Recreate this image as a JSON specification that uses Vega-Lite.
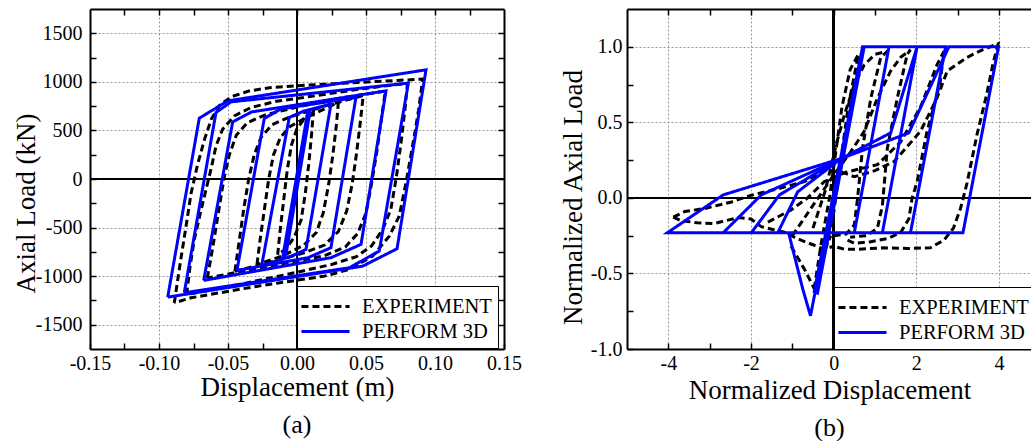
{
  "$schema": "https://vega.github.io/schema/vega-lite/v6.json",
  "padding": {"left": 12, "top": 8, "right": 0, "bottom": 0},
  "background": "white",
  "config": {"view": {"stroke": null}, "font": "Liberation Serif"},
  "bounds": "flush",
  "spacing": 123,
  "resolve": {"scale": {"color": "independent", "strokeDash": "independent"}, "legend": {"color": "independent", "strokeDash": "independent"}},
  "datasets": {
    "a": [
      {"s":"EXPERIMENT","g":"e1","i":0,"x":-0.0889,"y":-1275},{"s":"EXPERIMENT","g":"e1","i":1,"x":-0.0850,"y":-900},{"s":"EXPERIMENT","g":"e1","i":2,"x":-0.0800,"y":-450},{"s":"EXPERIMENT","g":"e1","i":3,"x":-0.0768,"y":-150},{"s":"EXPERIMENT","g":"e1","i":4,"x":-0.0720,"y":150},{"s":"EXPERIMENT","g":"e1","i":5,"x":-0.0672,"y":400},{"s":"EXPERIMENT","g":"e1","i":6,"x":-0.0620,"y":620},{"s":"EXPERIMENT","g":"e1","i":7,"x":-0.0560,"y":760},{"s":"EXPERIMENT","g":"e1","i":8,"x":-0.0470,"y":850},{"s":"EXPERIMENT","g":"e1","i":9,"x":-0.0350,"y":905},{"s":"EXPERIMENT","g":"e1","i":10,"x":-0.0200,"y":940},{"s":"EXPERIMENT","g":"e1","i":11,"x":0.0000,"y":960},{"s":"EXPERIMENT","g":"e1","i":12,"x":0.0440,"y":994},{"s":"EXPERIMENT","g":"e1","i":13,"x":0.0911,"y":1028},{"s":"EXPERIMENT","g":"e1","i":14,"x":0.0880,"y":700},{"s":"EXPERIMENT","g":"e1","i":15,"x":0.0850,"y":443},{"s":"EXPERIMENT","g":"e1","i":16,"x":0.0790,"y":-37},{"s":"EXPERIMENT","g":"e1","i":17,"x":0.0741,"y":-381},{"s":"EXPERIMENT","g":"e1","i":18,"x":0.0669,"y":-588},{"s":"EXPERIMENT","g":"e1","i":19,"x":0.0548,"y":-794},{"s":"EXPERIMENT","g":"e1","i":20,"x":0.0379,"y":-931},{"s":"EXPERIMENT","g":"e1","i":21,"x":0.0198,"y":-1000},{"s":"EXPERIMENT","g":"e1","i":22,"x":-0.0285,"y":-1103},{"s":"EXPERIMENT","g":"e1","i":23,"x":-0.0768,"y":-1223},{"s":"EXPERIMENT","g":"e1","i":24,"x":-0.0889,"y":-1275},
      {"s":"EXPERIMENT","g":"e2","i":0,"x":-0.0800,"y":-1190},{"s":"EXPERIMENT","g":"e2","i":1,"x":-0.0775,"y":-900},{"s":"EXPERIMENT","g":"e2","i":2,"x":-0.0744,"y":-622},{"s":"EXPERIMENT","g":"e2","i":3,"x":-0.0700,"y":-350},{"s":"EXPERIMENT","g":"e2","i":4,"x":-0.0659,"y":-106},{"s":"EXPERIMENT","g":"e2","i":5,"x":-0.0620,"y":120},{"s":"EXPERIMENT","g":"e2","i":6,"x":-0.0587,"y":340},{"s":"EXPERIMENT","g":"e2","i":7,"x":-0.0539,"y":512},{"s":"EXPERIMENT","g":"e2","i":8,"x":-0.0454,"y":650},{"s":"EXPERIMENT","g":"e2","i":9,"x":-0.0333,"y":736},{"s":"EXPERIMENT","g":"e2","i":10,"x":-0.0150,"y":800},{"s":"EXPERIMENT","g":"e2","i":11,"x":0.0150,"y":860},{"s":"EXPERIMENT","g":"e2","i":12,"x":0.0450,"y":925},{"s":"EXPERIMENT","g":"e2","i":13,"x":0.0800,"y":985},{"s":"EXPERIMENT","g":"e2","i":14,"x":0.0785,"y":750},{"s":"EXPERIMENT","g":"e2","i":15,"x":0.0754,"y":375},{"s":"EXPERIMENT","g":"e2","i":16,"x":0.0720,"y":20},{"s":"EXPERIMENT","g":"e2","i":17,"x":0.0680,"y":-312},{"s":"EXPERIMENT","g":"e2","i":18,"x":0.0621,"y":-519},{"s":"EXPERIMENT","g":"e2","i":19,"x":0.0540,"y":-690},{"s":"EXPERIMENT","g":"e2","i":20,"x":0.0430,"y":-800},{"s":"EXPERIMENT","g":"e2","i":21,"x":0.0250,"y":-880},{"s":"EXPERIMENT","g":"e2","i":22,"x":0.0000,"y":-960},{"s":"EXPERIMENT","g":"e2","i":23,"x":-0.0400,"y":-1080},{"s":"EXPERIMENT","g":"e2","i":24,"x":-0.0800,"y":-1190},
      {"s":"EXPERIMENT","g":"e3","i":0,"x":-0.0650,"y":-1020},{"s":"EXPERIMENT","g":"e3","i":1,"x":-0.0610,"y":-700},{"s":"EXPERIMENT","g":"e3","i":2,"x":-0.0570,"y":-350},{"s":"EXPERIMENT","g":"e3","i":3,"x":-0.0530,"y":0},{"s":"EXPERIMENT","g":"e3","i":4,"x":-0.0490,"y":250},{"s":"EXPERIMENT","g":"e3","i":5,"x":-0.0440,"y":450},{"s":"EXPERIMENT","g":"e3","i":6,"x":-0.0360,"y":580},{"s":"EXPERIMENT","g":"e3","i":7,"x":-0.0230,"y":660},{"s":"EXPERIMENT","g":"e3","i":8,"x":0.0000,"y":740},{"s":"EXPERIMENT","g":"e3","i":9,"x":0.0300,"y":830},{"s":"EXPERIMENT","g":"e3","i":10,"x":0.0640,"y":905},{"s":"EXPERIMENT","g":"e3","i":11,"x":0.0610,"y":600},{"s":"EXPERIMENT","g":"e3","i":12,"x":0.0575,"y":250},{"s":"EXPERIMENT","g":"e3","i":13,"x":0.0540,"y":-50},{"s":"EXPERIMENT","g":"e3","i":14,"x":0.0500,"y":-350},{"s":"EXPERIMENT","g":"e3","i":15,"x":0.0440,"y":-560},{"s":"EXPERIMENT","g":"e3","i":16,"x":0.0350,"y":-700},{"s":"EXPERIMENT","g":"e3","i":17,"x":0.0200,"y":-790},{"s":"EXPERIMENT","g":"e3","i":18,"x":-0.0100,"y":-870},{"s":"EXPERIMENT","g":"e3","i":19,"x":-0.0400,"y":-950},{"s":"EXPERIMENT","g":"e3","i":20,"x":-0.0650,"y":-1020},
      {"s":"EXPERIMENT","g":"e4","i":0,"x":-0.0450,"y":-950},{"s":"EXPERIMENT","g":"e4","i":1,"x":-0.0420,"y":-650},{"s":"EXPERIMENT","g":"e4","i":2,"x":-0.0385,"y":-300},{"s":"EXPERIMENT","g":"e4","i":3,"x":-0.0350,"y":0},{"s":"EXPERIMENT","g":"e4","i":4,"x":-0.0310,"y":250},{"s":"EXPERIMENT","g":"e4","i":5,"x":-0.0260,"y":430},{"s":"EXPERIMENT","g":"e4","i":6,"x":-0.0180,"y":560},{"s":"EXPERIMENT","g":"e4","i":7,"x":-0.0050,"y":640},{"s":"EXPERIMENT","g":"e4","i":8,"x":0.0200,"y":750},{"s":"EXPERIMENT","g":"e4","i":9,"x":0.0480,"y":860},{"s":"EXPERIMENT","g":"e4","i":10,"x":0.0460,"y":600},{"s":"EXPERIMENT","g":"e4","i":11,"x":0.0430,"y":250},{"s":"EXPERIMENT","g":"e4","i":12,"x":0.0400,"y":-50},{"s":"EXPERIMENT","g":"e4","i":13,"x":0.0360,"y":-330},{"s":"EXPERIMENT","g":"e4","i":14,"x":0.0300,"y":-540},{"s":"EXPERIMENT","g":"e4","i":15,"x":0.0200,"y":-680},{"s":"EXPERIMENT","g":"e4","i":16,"x":0.0050,"y":-760},{"s":"EXPERIMENT","g":"e4","i":17,"x":-0.0200,"y":-860},{"s":"EXPERIMENT","g":"e4","i":18,"x":-0.0450,"y":-950},
      {"s":"EXPERIMENT","g":"e5","i":0,"x":-0.0290,"y":-880},{"s":"EXPERIMENT","g":"e5","i":1,"x":-0.0265,"y":-600},{"s":"EXPERIMENT","g":"e5","i":2,"x":-0.0235,"y":-300},{"s":"EXPERIMENT","g":"e5","i":3,"x":-0.0205,"y":0},{"s":"EXPERIMENT","g":"e5","i":4,"x":-0.0170,"y":250},{"s":"EXPERIMENT","g":"e5","i":5,"x":-0.0120,"y":430},{"s":"EXPERIMENT","g":"e5","i":6,"x":-0.0050,"y":540},{"s":"EXPERIMENT","g":"e5","i":7,"x":0.0050,"y":620},{"s":"EXPERIMENT","g":"e5","i":8,"x":0.0300,"y":790},{"s":"EXPERIMENT","g":"e5","i":9,"x":0.0285,"y":550},{"s":"EXPERIMENT","g":"e5","i":10,"x":0.0260,"y":250},{"s":"EXPERIMENT","g":"e5","i":11,"x":0.0230,"y":-50},{"s":"EXPERIMENT","g":"e5","i":12,"x":0.0190,"y":-350},{"s":"EXPERIMENT","g":"e5","i":13,"x":0.0140,"y":-550},{"s":"EXPERIMENT","g":"e5","i":14,"x":0.0050,"y":-680},{"s":"EXPERIMENT","g":"e5","i":15,"x":-0.0100,"y":-790},{"s":"EXPERIMENT","g":"e5","i":16,"x":-0.0290,"y":-880},
      {"s":"EXPERIMENT","g":"e6","i":0,"x":-0.0140,"y":-780},{"s":"EXPERIMENT","g":"e6","i":1,"x":-0.0120,"y":-500},{"s":"EXPERIMENT","g":"e6","i":2,"x":-0.0095,"y":-200},{"s":"EXPERIMENT","g":"e6","i":3,"x":-0.0070,"y":100},{"s":"EXPERIMENT","g":"e6","i":4,"x":-0.0040,"y":350},{"s":"EXPERIMENT","g":"e6","i":5,"x":0.0000,"y":520},{"s":"EXPERIMENT","g":"e6","i":6,"x":0.0060,"y":630},{"s":"EXPERIMENT","g":"e6","i":7,"x":0.0120,"y":720},{"s":"EXPERIMENT","g":"e6","i":8,"x":0.0105,"y":450},{"s":"EXPERIMENT","g":"e6","i":9,"x":0.0085,"y":150},{"s":"EXPERIMENT","g":"e6","i":10,"x":0.0060,"y":-150},{"s":"EXPERIMENT","g":"e6","i":11,"x":0.0030,"y":-420},{"s":"EXPERIMENT","g":"e6","i":12,"x":-0.0020,"y":-600},{"s":"EXPERIMENT","g":"e6","i":13,"x":-0.0080,"y":-720},{"s":"EXPERIMENT","g":"e6","i":14,"x":-0.0140,"y":-780},
      {"s":"PERFORM 3D","g":"p1","i":0,"x":-0.0937,"y":-1216},{"s":"PERFORM 3D","g":"p1","i":1,"x":-0.0708,"y":626},{"s":"PERFORM 3D","g":"p1","i":2,"x":-0.0502,"y":804},{"s":"PERFORM 3D","g":"p1","i":3,"x":0.0935,"y":1124},{"s":"PERFORM 3D","g":"p1","i":4,"x":0.0725,"y":-718},{"s":"PERFORM 3D","g":"p1","i":5,"x":0.0476,"y":-897},{"s":"PERFORM 3D","g":"p1","i":6,"x":-0.0937,"y":-1216},
      {"s":"PERFORM 3D","g":"p2","i":0,"x":-0.0817,"y":-1171},{"s":"PERFORM 3D","g":"p2","i":1,"x":-0.0587,"y":685},{"s":"PERFORM 3D","g":"p2","i":2,"x":-0.0478,"y":794},{"s":"PERFORM 3D","g":"p2","i":3,"x":0.0807,"y":987},{"s":"PERFORM 3D","g":"p2","i":4,"x":0.0596,"y":-742},{"s":"PERFORM 3D","g":"p2","i":5,"x":0.0379,"y":-914},{"s":"PERFORM 3D","g":"p2","i":6,"x":-0.0817,"y":-1171},
      {"s":"PERFORM 3D","g":"p3","i":0,"x":-0.0676,"y":-1044},{"s":"PERFORM 3D","g":"p3","i":1,"x":-0.0466,"y":588},{"s":"PERFORM 3D","g":"p3","i":2,"x":-0.0330,"y":690},{"s":"PERFORM 3D","g":"p3","i":3,"x":0.0645,"y":907},{"s":"PERFORM 3D","g":"p3","i":4,"x":0.0464,"y":-673},{"s":"PERFORM 3D","g":"p3","i":5,"x":0.0246,"y":-810},{"s":"PERFORM 3D","g":"p3","i":6,"x":-0.0676,"y":-1044},
      {"s":"PERFORM 3D","g":"p4","i":0,"x":-0.0435,"y":-941},{"s":"PERFORM 3D","g":"p4","i":1,"x":-0.0237,"y":623},{"s":"PERFORM 3D","g":"p4","i":2,"x":-0.0120,"y":720},{"s":"PERFORM 3D","g":"p4","i":3,"x":0.0427,"y":839},{"s":"PERFORM 3D","g":"p4","i":4,"x":0.0246,"y":-707},{"s":"PERFORM 3D","g":"p4","i":5,"x":0.0080,"y":-810},{"s":"PERFORM 3D","g":"p4","i":6,"x":-0.0435,"y":-941},
      {"s":"PERFORM 3D","g":"p5","i":0,"x":-0.0256,"y":-890},{"s":"PERFORM 3D","g":"p5","i":1,"x":-0.0056,"y":633},{"s":"PERFORM 3D","g":"p5","i":2,"x":0.0050,"y":700},{"s":"PERFORM 3D","g":"p5","i":3,"x":0.0246,"y":770},{"s":"PERFORM 3D","g":"p5","i":4,"x":0.0065,"y":-725},{"s":"PERFORM 3D","g":"p5","i":5,"x":-0.0050,"y":-800},{"s":"PERFORM 3D","g":"p5","i":6,"x":-0.0256,"y":-890},
      {"s":"PERFORM 3D","g":"p6","i":0,"x":-0.0104,"y":-811},{"s":"PERFORM 3D","g":"p6","i":1,"x":0.0077,"y":684},{"s":"PERFORM 3D","g":"p6","i":2,"x":0.0095,"y":700},{"s":"PERFORM 3D","g":"p6","i":3,"x":-0.0080,"y":-780},{"s":"PERFORM 3D","g":"p6","i":4,"x":-0.0104,"y":-811}
    ],
    "b": [
      {"s":"EXPERIMENT","g":"e1","i":0,"x":-3.88,"y":-0.127},{"s":"EXPERIMENT","g":"e1","i":1,"x":-3.60,"y":-0.09},{"s":"EXPERIMENT","g":"e1","i":2,"x":-3.12,"y":-0.07},{"s":"EXPERIMENT","g":"e1","i":3,"x":-2.47,"y":-0.027},{"s":"EXPERIMENT","g":"e1","i":4,"x":-1.99,"y":0.018},{"s":"EXPERIMENT","g":"e1","i":5,"x":-1.35,"y":0.06},{"s":"EXPERIMENT","g":"e1","i":6,"x":-0.71,"y":0.107},{"s":"EXPERIMENT","g":"e1","i":7,"x":-0.23,"y":0.18},{"s":"EXPERIMENT","g":"e1","i":8,"x":0.20,"y":0.17},{"s":"EXPERIMENT","g":"e1","i":9,"x":0.50,"y":0.14},{"s":"EXPERIMENT","g":"e1","i":10,"x":1.00,"y":0.18},{"s":"EXPERIMENT","g":"e1","i":11,"x":1.46,"y":0.24},{"s":"EXPERIMENT","g":"e1","i":12,"x":2.10,"y":0.44},{"s":"EXPERIMENT","g":"e1","i":13,"x":2.50,"y":0.66},{"s":"EXPERIMENT","g":"e1","i":14,"x":2.75,"y":0.84},{"s":"EXPERIMENT","g":"e1","i":15,"x":3.23,"y":0.93},{"s":"EXPERIMENT","g":"e1","i":16,"x":3.60,"y":0.98},{"s":"EXPERIMENT","g":"e1","i":17,"x":3.98,"y":1.02},{"s":"EXPERIMENT","g":"e1","i":18,"x":3.85,"y":0.88},{"s":"EXPERIMENT","g":"e1","i":19,"x":3.70,"y":0.68},{"s":"EXPERIMENT","g":"e1","i":20,"x":3.47,"y":0.42},{"s":"EXPERIMENT","g":"e1","i":21,"x":3.23,"y":0.10},{"s":"EXPERIMENT","g":"e1","i":22,"x":3.07,"y":-0.07},{"s":"EXPERIMENT","g":"e1","i":23,"x":2.90,"y":-0.20},{"s":"EXPERIMENT","g":"e1","i":24,"x":2.67,"y":-0.28},{"s":"EXPERIMENT","g":"e1","i":25,"x":2.34,"y":-0.33},{"s":"EXPERIMENT","g":"e1","i":26,"x":1.80,"y":-0.335},{"s":"EXPERIMENT","g":"e1","i":27,"x":1.22,"y":-0.33},{"s":"EXPERIMENT","g":"e1","i":28,"x":0.60,"y":-0.34},{"s":"EXPERIMENT","g":"e1","i":29,"x":0.26,"y":-0.34},{"s":"EXPERIMENT","g":"e1","i":30,"x":0.00,"y":-0.32},
      {"s":"EXPERIMENT","g":"e2","i":0,"x":-3.88,"y":-0.127},{"s":"EXPERIMENT","g":"e2","i":1,"x":-3.70,"y":-0.15},{"s":"EXPERIMENT","g":"e2","i":2,"x":-3.30,"y":-0.165},{"s":"EXPERIMENT","g":"e2","i":3,"x":-2.90,"y":-0.17},{"s":"EXPERIMENT","g":"e2","i":4,"x":-2.60,"y":-0.15},{"s":"EXPERIMENT","g":"e2","i":5,"x":-2.30,"y":-0.13},{"s":"EXPERIMENT","g":"e2","i":6,"x":-2.00,"y":-0.14},{"s":"EXPERIMENT","g":"e2","i":7,"x":-1.75,"y":-0.19},{"s":"EXPERIMENT","g":"e2","i":8,"x":-1.40,"y":-0.215},{"s":"EXPERIMENT","g":"e2","i":9,"x":-1.19,"y":-0.227},{"s":"EXPERIMENT","g":"e2","i":10,"x":-0.95,"y":-0.26},{"s":"EXPERIMENT","g":"e2","i":11,"x":-0.79,"y":-0.28},{"s":"EXPERIMENT","g":"e2","i":12,"x":-0.50,"y":-0.31},{"s":"EXPERIMENT","g":"e2","i":13,"x":-0.23,"y":-0.34},{"s":"EXPERIMENT","g":"e2","i":14,"x":0.00,"y":-0.32},
      {"s":"EXPERIMENT","g":"e3","i":0,"x":-1.59,"y":-0.16},{"s":"EXPERIMENT","g":"e3","i":1,"x":-1.03,"y":-0.08},{"s":"EXPERIMENT","g":"e3","i":2,"x":-0.63,"y":0.0},{"s":"EXPERIMENT","g":"e3","i":3,"x":-0.23,"y":0.107},{"s":"EXPERIMENT","g":"e3","i":4,"x":0.30,"y":0.17},{"s":"EXPERIMENT","g":"e3","i":5,"x":1.06,"y":0.22},{"s":"EXPERIMENT","g":"e3","i":6,"x":1.62,"y":0.37},{"s":"EXPERIMENT","g":"e3","i":7,"x":2.10,"y":0.60},{"s":"EXPERIMENT","g":"e3","i":8,"x":2.50,"y":0.88},{"s":"EXPERIMENT","g":"e3","i":9,"x":2.67,"y":0.97},{"s":"EXPERIMENT","g":"e3","i":10,"x":2.58,"y":0.77},{"s":"EXPERIMENT","g":"e3","i":11,"x":2.42,"y":0.60},{"s":"EXPERIMENT","g":"e3","i":12,"x":2.26,"y":0.44},{"s":"EXPERIMENT","g":"e3","i":13,"x":2.02,"y":0.107},{"s":"EXPERIMENT","g":"e3","i":14,"x":1.90,"y":0.0},{"s":"EXPERIMENT","g":"e3","i":15,"x":1.82,"y":-0.14},{"s":"EXPERIMENT","g":"e3","i":16,"x":1.62,"y":-0.23},{"s":"EXPERIMENT","g":"e3","i":17,"x":1.30,"y":-0.27},{"s":"EXPERIMENT","g":"e3","i":18,"x":0.90,"y":-0.29},{"s":"EXPERIMENT","g":"e3","i":19,"x":0.50,"y":-0.30},{"s":"EXPERIMENT","g":"e3","i":20,"x":0.26,"y":-0.27},
      {"s":"EXPERIMENT","g":"e4","i":0,"x":-1.00,"y":-0.25},{"s":"EXPERIMENT","g":"e4","i":1,"x":-0.50,"y":-0.05},{"s":"EXPERIMENT","g":"e4","i":2,"x":0.00,"y":0.15},{"s":"EXPERIMENT","g":"e4","i":3,"x":0.40,"y":0.30},{"s":"EXPERIMENT","g":"e4","i":4,"x":0.74,"y":0.44},{"s":"EXPERIMENT","g":"e4","i":5,"x":1.06,"y":0.66},{"s":"EXPERIMENT","g":"e4","i":6,"x":1.38,"y":0.84},{"s":"EXPERIMENT","g":"e4","i":7,"x":1.62,"y":0.93},{"s":"EXPERIMENT","g":"e4","i":8,"x":1.86,"y":0.98},{"s":"EXPERIMENT","g":"e4","i":9,"x":1.78,"y":0.95},{"s":"EXPERIMENT","g":"e4","i":10,"x":1.54,"y":0.66},{"s":"EXPERIMENT","g":"e4","i":11,"x":1.30,"y":0.33},{"s":"EXPERIMENT","g":"e4","i":12,"x":1.18,"y":-0.05},{"s":"EXPERIMENT","g":"e4","i":13,"x":1.06,"y":-0.20},{"s":"EXPERIMENT","g":"e4","i":14,"x":0.80,"y":-0.25},{"s":"EXPERIMENT","g":"e4","i":15,"x":0.40,"y":-0.26},
      {"s":"EXPERIMENT","g":"e5","i":0,"x":-0.50,"y":-0.20},{"s":"EXPERIMENT","g":"e5","i":1,"x":-0.20,"y":0.05},{"s":"EXPERIMENT","g":"e5","i":2,"x":0.06,"y":0.35},{"s":"EXPERIMENT","g":"e5","i":3,"x":0.26,"y":0.55},{"s":"EXPERIMENT","g":"e5","i":4,"x":0.50,"y":0.75},{"s":"EXPERIMENT","g":"e5","i":5,"x":0.74,"y":0.88},{"s":"EXPERIMENT","g":"e5","i":6,"x":1.00,"y":0.95},{"s":"EXPERIMENT","g":"e5","i":7,"x":1.30,"y":0.97},{"s":"EXPERIMENT","g":"e5","i":8,"x":1.14,"y":0.93},{"s":"EXPERIMENT","g":"e5","i":9,"x":0.90,"y":0.66},{"s":"EXPERIMENT","g":"e5","i":10,"x":0.70,"y":0.33},{"s":"EXPERIMENT","g":"e5","i":11,"x":0.58,"y":0.00},{"s":"EXPERIMENT","g":"e5","i":12,"x":0.50,"y":-0.18},{"s":"EXPERIMENT","g":"e5","i":13,"x":0.30,"y":-0.24},{"s":"EXPERIMENT","g":"e5","i":14,"x":0.00,"y":-0.25},
      {"s":"EXPERIMENT","g":"e6","i":0,"x":-0.47,"y":-0.60},{"s":"EXPERIMENT","g":"e6","i":1,"x":-0.30,"y":-0.30},{"s":"EXPERIMENT","g":"e6","i":2,"x":-0.10,"y":0.00},{"s":"EXPERIMENT","g":"e6","i":3,"x":0.05,"y":0.30},{"s":"EXPERIMENT","g":"e6","i":4,"x":0.20,"y":0.60},{"s":"EXPERIMENT","g":"e6","i":5,"x":0.40,"y":0.85},{"s":"EXPERIMENT","g":"e6","i":6,"x":0.60,"y":0.95},{"s":"EXPERIMENT","g":"e6","i":7,"x":0.35,"y":0.60},{"s":"EXPERIMENT","g":"e6","i":8,"x":0.15,"y":0.20},{"s":"EXPERIMENT","g":"e6","i":9,"x":0.00,"y":-0.10},{"s":"EXPERIMENT","g":"e6","i":10,"x":-0.20,"y":-0.35},{"s":"EXPERIMENT","g":"e6","i":11,"x":-0.39,"y":-0.56},{"s":"EXPERIMENT","g":"e6","i":12,"x":-0.47,"y":-0.60},
      {"s":"EXPERIMENT","g":"e7","i":0,"x":-1.03,"y":-0.32},{"s":"EXPERIMENT","g":"e7","i":1,"x":-0.71,"y":-0.47},{"s":"EXPERIMENT","g":"e7","i":2,"x":-0.47,"y":-0.60},{"s":"EXPERIMENT","g":"e7","i":3,"x":-0.39,"y":-0.56},{"s":"EXPERIMENT","g":"e7","i":4,"x":-0.23,"y":-0.36},{"s":"EXPERIMENT","g":"e7","i":5,"x":-0.07,"y":-0.25},
      {"s":"PERFORM 3D","g":"pA","i":0,"x":0.00,"y":0.00},{"s":"PERFORM 3D","g":"pA","i":1,"x":0.74,"y":1.00},{"s":"PERFORM 3D","g":"pA","i":2,"x":-0.39,"y":-0.63},{"s":"PERFORM 3D","g":"pA","i":3,"x":-0.47,"y":-0.62},{"s":"PERFORM 3D","g":"pA","i":4,"x":0.70,"y":1.00},{"s":"PERFORM 3D","g":"pA","i":5,"x":1.34,"y":1.00},{"s":"PERFORM 3D","g":"pA","i":6,"x":0.50,"y":-0.23},{"s":"PERFORM 3D","g":"pA","i":7,"x":-1.09,"y":-0.23},{"s":"PERFORM 3D","g":"pA","i":8,"x":-0.75,"y":-0.60},{"s":"PERFORM 3D","g":"pA","i":9,"x":-0.56,"y":-0.78},{"s":"PERFORM 3D","g":"pA","i":10,"x":0.72,"y":1.00},{"s":"PERFORM 3D","g":"pA","i":11,"x":2.02,"y":1.00},{"s":"PERFORM 3D","g":"pA","i":12,"x":1.18,"y":-0.23},{"s":"PERFORM 3D","g":"pA","i":13,"x":-1.35,"y":-0.23},{"s":"PERFORM 3D","g":"pA","i":14,"x":-0.87,"y":0.04},{"s":"PERFORM 3D","g":"pA","i":15,"x":0.18,"y":0.26},{"s":"PERFORM 3D","g":"pA","i":16,"x":1.38,"y":0.43},{"s":"PERFORM 3D","g":"pA","i":17,"x":2.02,"y":1.00},{"s":"PERFORM 3D","g":"pA","i":18,"x":2.71,"y":1.00},{"s":"PERFORM 3D","g":"pA","i":19,"x":1.86,"y":-0.23},{"s":"PERFORM 3D","g":"pA","i":20,"x":-1.99,"y":-0.23},{"s":"PERFORM 3D","g":"pA","i":21,"x":-1.31,"y":0.02},{"s":"PERFORM 3D","g":"pA","i":22,"x":0.18,"y":0.26},{"s":"PERFORM 3D","g":"pA","i":23,"x":1.82,"y":0.43},{"s":"PERFORM 3D","g":"pA","i":24,"x":2.79,"y":1.00},{"s":"PERFORM 3D","g":"pA","i":25,"x":3.99,"y":1.00},{"s":"PERFORM 3D","g":"pA","i":26,"x":3.13,"y":-0.23},{"s":"PERFORM 3D","g":"pA","i":27,"x":-4.02,"y":-0.23},{"s":"PERFORM 3D","g":"pA","i":28,"x":-2.67,"y":0.02},{"s":"PERFORM 3D","g":"pA","i":29,"x":0.18,"y":0.26},
      {"s":"PERFORM 3D","g":"pB","i":0,"x":-2.67,"y":-0.23},{"s":"PERFORM 3D","g":"pB","i":1,"x":-1.75,"y":0.02},{"s":"PERFORM 3D","g":"pB","i":2,"x":0.18,"y":0.26}
    ]
  },
  "hconcat": [
    {
      "width": 414, "height": 340,
      "data": {"name": "a"},
      "title": {"text": "(a)", "orient": "bottom", "fontSize": 26, "font": "Liberation Serif", "fontWeight": "normal", "color": "black", "offset": 12},
      "resolve": {"axis": {"x": "independent", "y": "independent"}},
      "layer": [
        {"mark": {"type": "rule", "color": "black", "strokeWidth": 1.5},
         "encoding": {"y": {"datum": 0, "type": "quantitative", "scale": {"domain": [-1750, 1750], "nice": false, "zero": false}, "axis": null}}},
        {"mark": {"type": "rule", "color": "black", "strokeWidth": 1.5},
         "encoding": {"x": {"datum": 0, "type": "quantitative", "scale": {"domain": [-0.15, 0.15], "nice": false, "zero": false}, "axis": null}}},
        {"mark": {"type": "line", "strokeWidth": 3},
         "encoding": {
           "x": {"field": "x", "type": "quantitative", "scale": {"domain": [-0.15, 0.15], "nice": false, "zero": false},
                 "axis": {"orient": "bottom", "values": [-0.15,-0.125,-0.1,-0.075,-0.05,-0.025,0,0.025,0.05,0.075,0.1,0.125,0.15],
                          "labelExpr": "abs(datum.value*20-round(datum.value*20))<0.001 ? (datum.value<-0.001?'-':'')+format(abs(datum.value),'.2f') : ''",
                          "grid": true, "gridOpacity": {"condition": {"test": "abs(datum.value*20-round(datum.value*20))<0.001 && abs(datum.value)>0.001 && abs(datum.value)<0.149", "value": 1}, "value": 0},
                          "gridColor": "#999999", "gridDash": [2, 2], "gridWidth": 1,
                          "domain": true, "domainColor": "black", "domainWidth": 2,
                          "ticks": true, "tickSize": -6, "tickColor": "black", "tickWidth": 1.5,
                          "labelPadding": 10, "labelFont": "Liberation Serif", "labelFontSize": 20, "labelColor": "black", "labelFlush": false, "labelOverlap": false, "labelBound": false,
                          "title": "Displacement (m)", "titleFont": "Liberation Serif", "titleFontSize": 27, "titleFontWeight": "normal", "titleColor": "black", "titleBaseline": "middle", "titleY": 38}},
           "y": {"field": "y", "type": "quantitative", "scale": {"domain": [-1750, 1750], "nice": false, "zero": false},
                 "axis": {"orient": "left", "values": [-1500,-1250,-1000,-750,-500,-250,0,250,500,750,1000,1250,1500],
                          "labelExpr": "datum.value%500==0 ? (datum.value<0?'-':'')+abs(datum.value) : ''",
                          "grid": true, "gridOpacity": {"condition": {"test": "datum.value%500==0 && datum.value!=0", "value": 1}, "value": 0},
                          "gridColor": "#999999", "gridDash": [2, 2], "gridWidth": 1,
                          "domain": true, "domainColor": "black", "domainWidth": 2,
                          "ticks": true, "tickSize": -6, "tickColor": "black", "tickWidth": 1.5,
                          "labelPadding": 14, "labelFont": "Liberation Serif", "labelFontSize": 20, "labelColor": "black", "labelOverlap": false, "labelBound": false, "labelFlush": false,
                          "title": "Axial Load (kN)", "titleFont": "Liberation Serif", "titleFontSize": 27, "titleFontWeight": "normal", "titleColor": "black", "titleAlign": "center", "titleBaseline": "middle", "titleX": -64, "titleY": 194}},
           "color": {"field": "s", "type": "nominal", "scale": {"domain": ["EXPERIMENT", "PERFORM 3D"], "range": ["#000000", "#0000ff"]},
                     "legend": {"title": null, "orient": "none", "legendX": 207, "legendY": 277, "fillColor": "white", "strokeColor": "black", "padding": 6, "symbolType": "M-1.85,0H1.85", "symbolSize": 676, "symbolStrokeWidth": 3, "symbolOffset": 8, "labelFont": "Liberation Serif", "labelFontSize": 20.5, "labelColor": "black", "labelOffset": 22, "rowPadding": 0, "labelLimit": 400}},
           "strokeDash": {"field": "s", "type": "nominal", "scale": {"domain": ["EXPERIMENT", "PERFORM 3D"], "range": [[7, 4], [1, 0]]},
                     "legend": {"title": null, "orient": "none", "legendX": 207, "legendY": 277, "fillColor": "white", "strokeColor": "black", "padding": 6, "symbolType": "M-1.85,0H1.85", "symbolSize": 676, "symbolStrokeWidth": 3, "symbolOffset": 8, "labelFont": "Liberation Serif", "labelFontSize": 20.5, "labelColor": "black", "labelOffset": 22, "rowPadding": 0, "labelLimit": 400}},
           "detail": {"field": "g"},
           "order": {"field": "i", "type": "quantitative"}
         }},
        {"mark": {"type": "point", "opacity": 0},
         "encoding": {
           "x": {"field": "x", "type": "quantitative", "scale": {"domain": [-0.15, 0.15], "nice": false, "zero": false},
                 "axis": {"orient": "top", "values": [-0.125,-0.1,-0.075,-0.05,-0.025,0,0.025,0.05,0.075,0.1,0.125], "labels": false, "grid": false, "domain": true, "domainColor": "black", "domainWidth": 2, "tickSize": -6, "tickColor": "black", "tickWidth": 1.5, "title": null}},
           "y": {"field": "y", "type": "quantitative", "scale": {"domain": [-1750, 1750], "nice": false, "zero": false},
                 "axis": {"orient": "right", "values": [-1500,-1250,-1000,-750,-500,-250,0,250,500,750,1000,1250,1500], "labels": false, "grid": false, "domain": true, "domainColor": "black", "domainWidth": 2, "tickSize": -6, "tickColor": "black", "tickWidth": 1.5, "title": null}}
         }}
      ]
    },
    {
      "width": 405, "height": 340,
      "data": {"name": "b"},
      "title": {"text": "(b)", "orient": "bottom", "fontSize": 26, "font": "Liberation Serif", "fontWeight": "normal", "color": "black", "offset": 12},
      "resolve": {"axis": {"x": "independent", "y": "independent"}},
      "layer": [
        {"mark": {"type": "rule", "color": "black", "strokeWidth": 1.5},
         "encoding": {"y": {"datum": 0, "type": "quantitative", "scale": {"domain": [-1.0, 1.25], "nice": false, "zero": false}, "axis": null}}},
        {"mark": {"type": "rule", "color": "black", "strokeWidth": 1.5},
         "encoding": {"x": {"datum": 0, "type": "quantitative", "scale": {"domain": [-5, 4.8], "nice": false, "zero": false}, "axis": null}}},
        {"mark": {"type": "line", "strokeWidth": 3},
         "encoding": {
           "x": {"field": "x", "type": "quantitative", "scale": {"domain": [-5, 4.8], "nice": false, "zero": false},
                 "axis": {"orient": "bottom", "values": [-4,-3,-2,-1,0,1,2,3,4],
                          "labelExpr": "datum.value%2==0 ? (datum.value<0?'-':'')+abs(datum.value) : ''",
                          "grid": true, "gridOpacity": {"condition": {"test": "datum.value%2==0 && datum.value!=0", "value": 1}, "value": 0},
                          "gridColor": "#999999", "gridDash": [2, 2], "gridWidth": 1,
                          "domain": true, "domainColor": "black", "domainWidth": 2,
                          "ticks": true, "tickSize": -6, "tickColor": "black", "tickWidth": 1.5,
                          "labelPadding": 10, "labelFont": "Liberation Serif", "labelFontSize": 20, "labelColor": "black", "labelFlush": false, "labelOverlap": false, "labelBound": false,
                          "title": "Normalized Displacement", "titleFont": "Liberation Serif", "titleFontSize": 27, "titleFontWeight": "normal", "titleColor": "black", "titleBaseline": "middle", "titleY": 41}},
           "y": {"field": "y", "type": "quantitative", "scale": {"domain": [-1.0, 1.25], "nice": false, "zero": false},
                 "axis": {"orient": "left", "values": [-1,-0.75,-0.5,-0.25,0,0.25,0.5,0.75,1],
                          "labelExpr": "abs(datum.value*2-round(datum.value*2))<0.001 ? (datum.value<-0.001?'-':'')+format(abs(datum.value),'.1f') : ''",
                          "grid": true, "gridOpacity": {"condition": {"test": "abs(datum.value*2-round(datum.value*2))<0.001 && abs(datum.value)>0.001 && datum.value>-0.99", "value": 1}, "value": 0},
                          "gridColor": "#999999", "gridDash": [2, 2], "gridWidth": 1,
                          "domain": true, "domainColor": "black", "domainWidth": 2,
                          "ticks": true, "tickSize": -6, "tickColor": "black", "tickWidth": 1.5,
                          "labelPadding": 11, "labelFont": "Liberation Serif", "labelFontSize": 20, "labelColor": "black", "labelOverlap": false, "labelBound": false, "labelFlush": false,
                          "title": "Normalized Axial Load", "titleFont": "Liberation Serif", "titleFontSize": 27, "titleFontWeight": "normal", "titleColor": "black", "titleAlign": "center", "titleBaseline": "middle", "titleX": -54, "titleY": 188}},
           "color": {"field": "s", "type": "nominal", "scale": {"domain": ["EXPERIMENT", "PERFORM 3D"], "range": ["#000000", "#0000ff"]},
                     "legend": {"title": null, "orient": "none", "legendX": 207, "legendY": 278, "fillColor": "white", "strokeColor": "black", "padding": 6, "symbolType": "M-1.85,0H1.85", "symbolSize": 676, "symbolStrokeWidth": 3, "symbolOffset": 8, "labelFont": "Liberation Serif", "labelFontSize": 20.5, "labelColor": "black", "labelOffset": 22, "rowPadding": 0, "labelLimit": 400}},
           "strokeDash": {"field": "s", "type": "nominal", "scale": {"domain": ["EXPERIMENT", "PERFORM 3D"], "range": [[7, 4], [1, 0]]},
                     "legend": {"title": null, "orient": "none", "legendX": 207, "legendY": 278, "fillColor": "white", "strokeColor": "black", "padding": 6, "symbolType": "M-1.85,0H1.85", "symbolSize": 676, "symbolStrokeWidth": 3, "symbolOffset": 8, "labelFont": "Liberation Serif", "labelFontSize": 20.5, "labelColor": "black", "labelOffset": 22, "rowPadding": 0, "labelLimit": 400}},
           "detail": {"field": "g"},
           "order": {"field": "i", "type": "quantitative"}
         }},
        {"mark": {"type": "point", "opacity": 0},
         "encoding": {
           "x": {"field": "x", "type": "quantitative", "scale": {"domain": [-5, 4.8], "nice": false, "zero": false},
                 "axis": {"orient": "top", "values": [-4,-3,-2,-1,0,1,2,3,4], "labels": false, "grid": false, "domain": true, "domainColor": "black", "domainWidth": 2, "tickSize": -6, "tickColor": "black", "tickWidth": 1.5, "title": null}},
           "y": {"field": "y", "type": "quantitative", "scale": {"domain": [-1.0, 1.25], "nice": false, "zero": false}, "axis": null}
         }}
      ]
    }
  ]
}
